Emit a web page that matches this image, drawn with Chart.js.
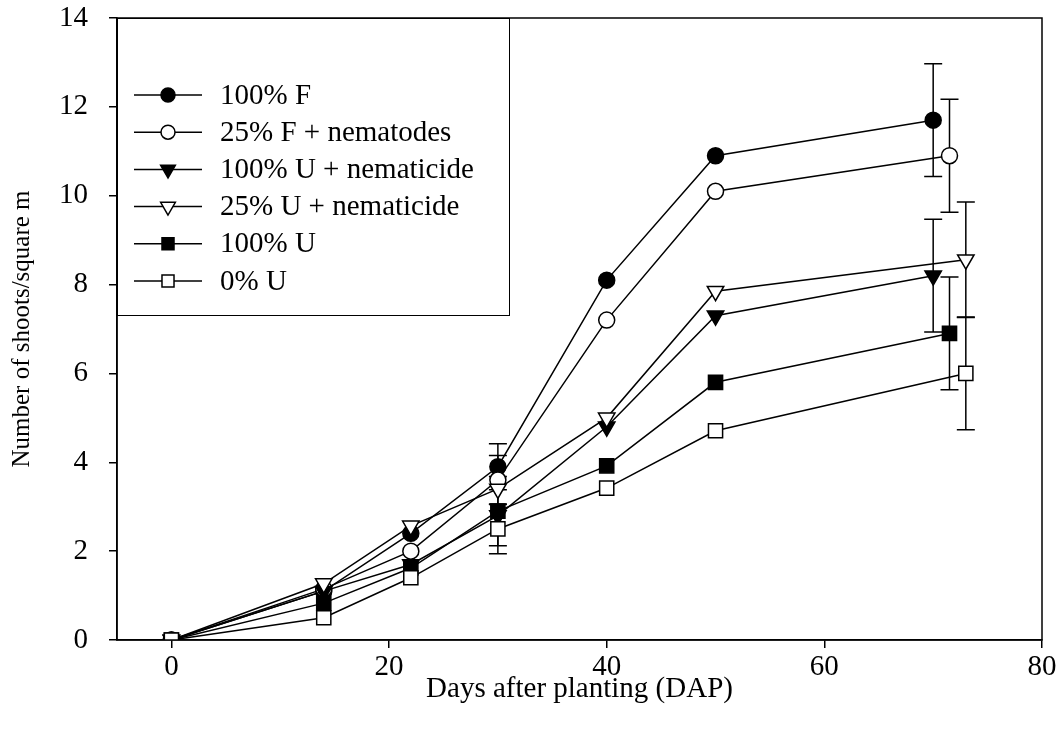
<!DOCTYPE html>
<html><head><meta charset="utf-8">
<script src="https://cdn.jsdelivr.net/npm/chart.js@4/dist/chart.umd.min.js"></script>
<style>html,body{margin:0;padding:0;background:#fff;}</style>
</head><body>
<canvas id="c" width="1064" height="734"></canvas>
<script>
// ---- data ----
const days = [0, 14, 22, 30, 40, 50];
const lastDay = [70, 71.5, 70, 73, 71.5, 73];
const seriesLabels = ['100% F', '25% F + nematodes', '100% U + nematicide', '25% U + nematicide', '100% U', '0% U'];
const valF100 = [0, 1.1, 2.4, 3.9, 8.1, 10.9, 11.7];
const valF25Nem = [0, 1.15, 2.0, 3.6, 7.2, 10.1, 10.9];
const valU100Nemt = [0, 1.1, 1.7, 2.8, 4.8, 7.3, 8.2];
const valU25Nemt = [0, 1.27, 2.57, 3.4, 5.0, 7.85, 8.56];
const valU100 = [0, 0.83, 1.62, 2.9, 3.92, 5.8, 6.9];
const valU0 = [0, 0.5, 1.4, 2.5, 3.42, 4.71, 6.0];
const errF100 = [null, null, null, 0.52, null, null, 1.27];
const errF25Nem = [null, null, null, 0.55, null, null, 1.27];
const errU100Nemt = [null, null, null, null, null, null, 1.27];
const errU25Nemt = [null, null, null, null, null, null, 1.3];
const errU100 = [null, null, null, 0.78, null, null, 1.27];
const errU0 = [null, null, null, 0.56, null, null, 1.27];
const xTicks = [0, 20, 40, 60, 80];
const yTicks = [0, 2, 4, 6, 8, 10, 12, 14];

const values = [valF100, valF25Nem, valU100Nemt, valU25Nemt, valU100, valU0];
const errors = [errF100, errF25Nem, errU100Nemt, errU25Nemt, errU100, errU0];
const markers = [
  {style: 'circle', fill: '#000', r: 8, rot: 0, lr: 7},
  {style: 'circle', fill: '#fff', r: 8, rot: 0, lr: 7},
  {style: 'triangle', fill: '#000', r: 9.5, rot: 180, lr: 8.5},
  {style: 'triangle', fill: '#fff', r: 9.5, rot: 180, lr: 8.5},
  {style: 'rect', fill: '#000', r: 10, rot: 0, lr: 8.5},
  {style: 'rect', fill: '#fff', r: 10, rot: 0, lr: 8.5}
];

const SERIF = '"Liberation Serif", "Times New Roman", serif';

const datasets = values.map((vals, i) => ({
  label: seriesLabels[i],
  data: vals.map((v, j) => ({x: j < days.length ? days[j] : lastDay[i], y: v})),
  showLine: true,
  borderColor: '#000',
  borderWidth: 1.5,
  pointStyle: markers[i].style,
  pointRotation: markers[i].rot,
  pointRadius: markers[i].r,
  pointBackgroundColor: markers[i].fill,
  pointBorderColor: '#000',
  pointBorderWidth: 1.5,
  order: values.length - i
}));

const extras = {
  id: 'extras',
  beforeDatasetsDraw(chart) {
    const ctx = chart.ctx, xs = chart.scales.x, ys = chart.scales.y;
    ctx.save();
    ctx.strokeStyle = '#000';
    ctx.lineWidth = 1.5;
    chart.data.datasets.forEach((ds, i) => {
      ds.data.forEach((p, j) => {
        const e = errors[i][j];
        if (e == null) return;
        const px = xs.getPixelForValue(p.x);
        const t = ys.getPixelForValue(p.y + e), b = ys.getPixelForValue(p.y - e);
        ctx.beginPath();
        ctx.moveTo(px, t); ctx.lineTo(px, b);
        ctx.moveTo(px - 9, t); ctx.lineTo(px + 9, t);
        ctx.moveTo(px - 9, b); ctx.lineTo(px + 9, b);
        ctx.stroke();
      });
    });
    ctx.restore();
  },
  afterDraw(chart) {
    const ctx = chart.ctx, a = chart.chartArea;
    ctx.save();
    ctx.strokeStyle = '#000';
    ctx.lineWidth = 1.5;
    ctx.strokeRect(a.left, a.top, a.right - a.left, a.bottom - a.top);
    // legend box
    const bx = a.left, by = a.top, bw = 392, bh = 297;
    ctx.fillStyle = '#fff';
    ctx.fillRect(bx, by, bw, bh);
    ctx.lineWidth = 1;
    ctx.strokeRect(bx + 0.5, by + 0.5, bw, bh);
    ctx.font = '29px ' + SERIF;
    ctx.textBaseline = 'middle';
    ctx.textAlign = 'left';
    chart.data.datasets.forEach((ds, i) => {
      const y = by + 77 + i * 37.2;
      ctx.strokeStyle = '#000';
      ctx.lineWidth = 1.5;
      ctx.beginPath(); ctx.moveTo(bx + 17, y); ctx.lineTo(bx + 85, y); ctx.stroke();
      const m = markers[i];
      const opts = {pointStyle: m.style, rotation: m.rot, radius: m.lr, borderWidth: 1.5};
      ctx.fillStyle = m.fill;
      ctx.strokeStyle = '#000';
      Chart.helpers.drawPoint(ctx, opts, bx + 51, y);
      ctx.fillStyle = '#000';
      ctx.fillText(ds.label, bx + 103, y + 1);
    });
    ctx.restore();
  }
};

new Chart(document.getElementById('c'), {
  type: 'scatter',
  data: {datasets},
  options: {
    responsive: false,
    animation: false,
    devicePixelRatio: 1,
    layout: {padding: {left: 0, top: 0, right: 22, bottom: 0}},
    plugins: {legend: {display: false}, tooltip: {enabled: false}},
    scales: {
      x: {
        type: 'linear', min: -5, max: 80,
        afterBuildTicks: s => { s.ticks = xTicks.map(v => ({value: v})); },
        afterFit: s => { s.height = 94; s.paddingLeft = 0; s.paddingRight = 0; },
        grid: {display: true, drawOnChartArea: false, drawTicks: true, tickLength: 8, color: '#000', lineWidth: 1.5},
        border: {display: true, color: '#000', width: 1.5},
        ticks: {color: '#000', font: {family: SERIF, size: 29}, padding: 2, maxRotation: 0},
        title: {display: true, text: 'Days after planting (DAP)', color: '#000', font: {family: SERIF, size: 29}, padding: {top: 0, bottom: 27}}
      },
      y: {
        type: 'linear', min: 0, max: 14,
        afterBuildTicks: s => { s.ticks = yTicks.map(v => ({value: v})); },
        afterFit: s => { s.width = 117; s.paddingTop = 18; s.paddingBottom = 0; },
        grid: {display: true, drawOnChartArea: false, drawTicks: true, tickLength: 8, color: '#000', lineWidth: 1.5},
        border: {display: true, color: '#000', width: 1.5},
        ticks: {color: '#000', font: {family: SERIF, size: 29}, padding: 21},
        title: {display: true, text: 'Number of shoots/square m', color: '#000', font: {family: SERIF, size: 25}, padding: {top: 7, bottom: 0}}
      }
    }
  },
  plugins: [extras]
});
</script>
</body></html>
